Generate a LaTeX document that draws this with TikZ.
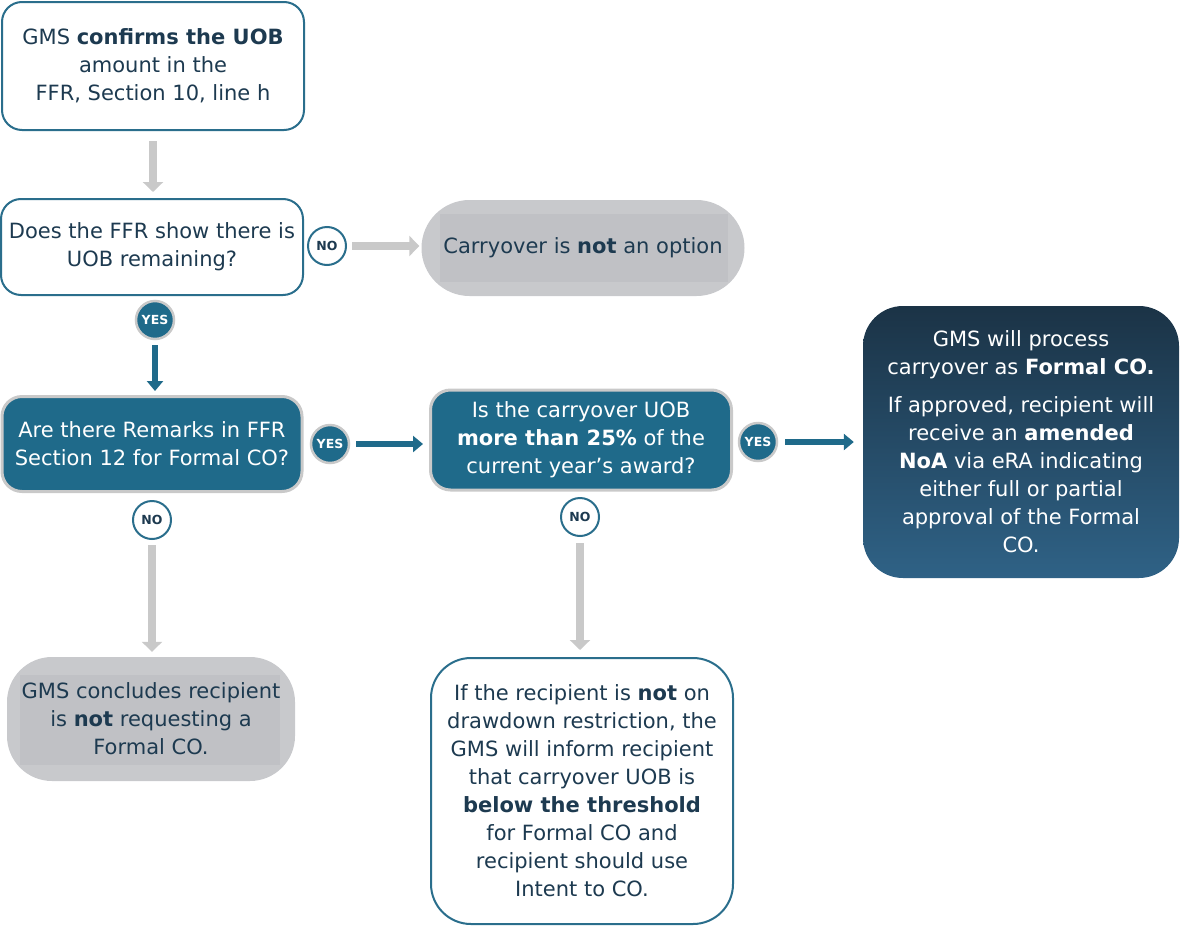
\documentclass[tikz,border=0pt]{standalone}
\usepackage{fontspec}
\setmainfont{DejaVu Sans}
\usetikzlibrary{arrows.meta,positioning}
\definecolor{navytext}{HTML}{1D3A50}
\definecolor{tealfill}{HTML}{1F6A8A}
\definecolor{tealline}{HTML}{2A6E8C}
\definecolor{pillgray}{HTML}{C8C9CC}
\definecolor{pillinner}{HTML}{C0C1C5}
\definecolor{arrowgray}{HTML}{C9C9C9}
\definecolor{formaltop}{HTML}{1B3346}
\definecolor{formalbot}{HTML}{2F6286}

\tikzset{
  bodyfont/.style={font=\fontsize{21}{28}\selectfont},
  whitebox/.style={bodyfont, draw=tealline, line width=2pt, fill=white, rounded corners=20pt, align=center, text=navytext, inner sep=0pt},
  tealbox/.style={bodyfont, draw=arrowgray, line width=3pt, fill=tealfill, rounded corners=20pt, align=center, text=white, inner sep=0pt},
  pill/.style={bodyfont, fill=pillgray, align=center, text=navytext, inner sep=0pt},
  nocircle/.style={circle, draw=tealline, line width=2pt, fill=white, minimum size=38pt, inner sep=0pt, font=\bfseries\fontsize{12.5}{12.5}\selectfont, text=navytext},
  yescircle/.style={circle, draw=arrowgray, line width=2.5pt, fill=tealfill, minimum size=38pt, inner sep=0pt, font=\bfseries\fontsize{12.5}{12.5}\selectfont, text=white},
  grayarrow/.style={draw=arrowgray, line width=8pt, -{Triangle[length=10pt,width=20pt]}},
  tealarrow/.style={draw=tealfill, line width=6pt, -{Triangle[length=10pt,width=16pt]}},
}

\begin{document}
\begin{tikzpicture}[x=1pt, y=-1pt]
\useasboundingbox (0,0) rectangle (1180,926);

% Left column
\node[whitebox, minimum width=302pt, minimum height=128pt] (confirm) at (153,66)
  {GMS \textbf{confirms the UOB}\\amount in the\\FFR, Section 10, line h};
\node[whitebox, minimum width=302pt, minimum height=96pt] (remain) at (152,247)
  {Does the FFR show there is\\UOB remaining?};
\node[tealbox, minimum width=300pt, minimum height=95pt] (remarks) at (152,444)
  {Are there Remarks in FFR\\Section 12 for Formal CO?};
\node[pill, minimum width=288pt, minimum height=124pt, rounded corners=45pt,
  path picture={\fill[pillinner, sharp corners] ([xshift=13pt,yshift=-18pt]path picture bounding box.north west) rectangle ([xshift=-15pt,yshift=16pt]path picture bounding box.south east);}] (notreq) at (151,719)
  {GMS concludes recipient\\is \textbf{not} requesting a\\Formal CO.};

% Middle and right
\node[pill, minimum width=323pt, minimum height=96pt, rounded corners=48pt,
  path picture={\fill[pillinner, sharp corners] ([xshift=18pt,yshift=-14pt]path picture bounding box.north west) rectangle ([xshift=-17pt,yshift=14pt]path picture bounding box.south east);}] (noopt) at (583,248)
  {Carryover is \textbf{not} an option};
\node[tealbox, minimum width=301pt, minimum height=100pt] (over) at (581,440)
  {Is the carryover UOB\\\textbf{more than 25\%} of the\\current year’s award?};
\node[whitebox, minimum width=302pt, minimum height=266pt, rounded corners=40pt] (below) at (582,791)
  {If the recipient is \textbf{not} on\\drawdown restriction, the\\GMS will inform recipient\\that carryover UOB is\\\textbf{below the threshold}\\for Formal CO and\\recipient should use\\Intent to CO.};
\node[bodyfont, minimum width=316pt, minimum height=272pt, rounded corners=40pt, inner sep=0pt,
  top color=formaltop, bottom color=formalbot, align=center, text=white] (formal) at (1021,442)
  {GMS will process\\carryover as \textbf{Formal CO.}\\[10pt]If approved, recipient will\\receive an \textbf{amended}\\\textbf{NoA} via eRA indicating\\either full or partial\\approval of the Formal\\CO.};

% Decision marks
\node[nocircle] (no1) at (327,246) {NO};
\node[yescircle] (yes1) at (155,320) {YES};
\node[yescircle] (yes2) at (330,444) {YES};
\node[yescircle] (yes3) at (758,442) {YES};
\node[nocircle] (no2) at (152,520) {NO};
\node[nocircle] (no3) at (580,517) {NO};

% Connectors
\draw[grayarrow, shorten <=10pt, shorten >=6pt] (confirm) -- (confirm |- remain.north);
\draw[grayarrow, shorten <=5pt, shorten >=2pt] (no1) -- (no1 -| noopt.west);
\draw[tealarrow, shorten <=5pt, shorten >=4pt] (yes1) -- (yes1 |- remarks.north);
\draw[tealarrow, shorten <=6pt, shorten >=6pt] (yes2) -- (yes2 -| over.west);
\draw[tealarrow, shorten <=7pt, shorten >=9pt] (yes3) -- (yes3 -| formal.west);
\draw[grayarrow, shorten <=5pt, shorten >=5pt] (no2) -- (no2 |- notreq.north);
\draw[grayarrow, shorten <=6pt, shorten >=7pt] (no3) -- (no3 |- below.north);
\end{tikzpicture}
\end{document}
